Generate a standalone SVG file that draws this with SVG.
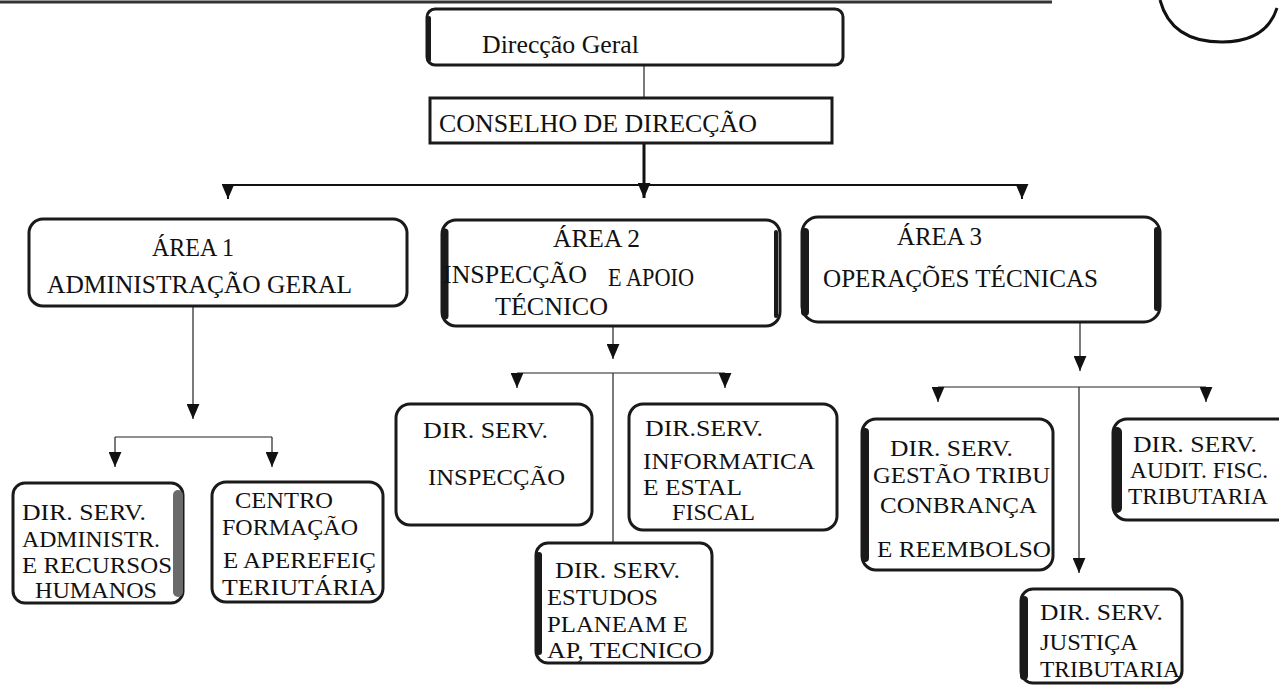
<svg xmlns="http://www.w3.org/2000/svg" width="1279" height="686" viewBox="0 0 1279 686">
<style>
  .bg{fill:#ffffff}
  .box{fill:#ffffff;stroke:#1a1a1a;stroke-width:3}
  .heavy{fill:none;stroke:#1a1a1a;stroke-linecap:round}
  .shade{fill:none;stroke:#6a6a6a;stroke-linecap:round}
  .t{font-family:"Liberation Serif","Times New Roman",serif;fill:#111;font-size:25px}
  .s{font-family:"Liberation Serif","Times New Roman",serif;fill:#111;font-size:24px}
  .thin{fill:none;stroke:#222;stroke-width:1.2}
  .mid{fill:none;stroke:#111;stroke-width:2}
  .thick{fill:none;stroke:#111;stroke-width:3}
</style>
<defs>
  <marker id="ahs" viewBox="0 0 12 14" refX="6" refY="14" markerWidth="13" markerHeight="15" markerUnits="userSpaceOnUse">
    <path d="M0,0 L12,0 L6,14 Z" fill="#111"/>
  </marker>
</defs>
<rect class="bg" x="0" y="0" width="1279" height="686"/>

<g id="header">
  <line x1="0" y1="2" x2="1052" y2="2" stroke="#333" stroke-width="3"/>
  <path d="M1160,0 C1168,30 1190,42 1222,42 C1252,42 1270,30 1277,8" fill="none" stroke="#111" stroke-width="3"/>
</g>

<g id="connectors">
  <line class="thin" x1="644" y1="65" x2="644" y2="98"/>
  <line class="thick" x1="644" y1="143" x2="644" y2="198" marker-end="url(#ahs)"/>
  <line class="mid" x1="228" y1="185" x2="1022" y2="185"/>
  <line class="mid" x1="228" y1="184" x2="228" y2="199" marker-end="url(#ahs)"/>
  <line class="mid" x1="1022" y1="184" x2="1022" y2="199" marker-end="url(#ahs)"/>

  <line class="thin" x1="193" y1="307" x2="193" y2="419" marker-end="url(#ahs)"/>
  <line class="thin" x1="115" y1="437" x2="272" y2="437"/>
  <line class="thin" x1="115" y1="437" x2="115" y2="467" marker-end="url(#ahs)"/>
  <line class="thin" x1="272" y1="437" x2="272" y2="467" marker-end="url(#ahs)"/>

  <line class="thin" x1="613" y1="327" x2="613" y2="359" marker-end="url(#ahs)"/>
  <line class="thin" x1="517" y1="373" x2="725" y2="373"/>
  <line class="thin" x1="517" y1="373" x2="517" y2="388" marker-end="url(#ahs)"/>
  <line class="thin" x1="725" y1="373" x2="725" y2="388" marker-end="url(#ahs)"/>
  <line class="thin" x1="613" y1="373" x2="613" y2="542"/>

  <line class="thin" x1="1080" y1="322" x2="1080" y2="371" marker-end="url(#ahs)"/>
  <line class="thin" x1="938" y1="387" x2="1206" y2="387"/>
  <line class="thin" x1="938" y1="387" x2="938" y2="402" marker-end="url(#ahs)"/>
  <line class="thin" x1="1206" y1="387" x2="1206" y2="402" marker-end="url(#ahs)"/>
  <line class="thin" x1="1079" y1="387" x2="1079" y2="573" marker-end="url(#ahs)"/>
</g>

<g id="direccao-geral">
  <rect class="box" x="427" y="9" width="416" height="56" rx="8"/>
  <path class="heavy" d="M429,18 L429,60" stroke-width="4"/>
  <text class="t" x="482" y="53" font-size="27" textLength="157" lengthAdjust="spacingAndGlyphs">Direcção  Geral</text>
</g>

<g id="conselho">
  <rect class="box" x="430" y="98" width="402" height="45"/>
  <text class="t" x="439" y="132" font-size="27" textLength="318" lengthAdjust="spacingAndGlyphs">CONSELHO DE DIRECÇÃO</text>
</g>

<g id="area1">
  <rect class="box" x="29" y="219" width="378" height="87" rx="14" stroke="#3a3a3a" stroke-width="5"/>
  <text class="t" x="152" y="256" textLength="82" lengthAdjust="spacingAndGlyphs">ÁREA 1</text>
  <text class="t" x="47" y="293" textLength="305" lengthAdjust="spacingAndGlyphs">ADMINISTRAÇÃO GERAL</text>
</g>

<g id="area2">
  <rect class="box" x="442" y="220" width="338" height="106" rx="14" stroke-width="4"/>
  <path class="heavy" d="M445,232 L445,316" stroke-width="7"/>
  <path class="heavy" d="M776,232 L776,316" stroke-width="4"/>
  <text class="t" x="553" y="247" textLength="87" lengthAdjust="spacingAndGlyphs">ÁREA 2</text>
  <text class="t" x="443" y="283" textLength="144" lengthAdjust="spacingAndGlyphs">INSPECÇÃO</text>
  <text class="t" x="608" y="286" textLength="86" lengthAdjust="spacingAndGlyphs">E APOIO</text>
  <text class="t" x="495" y="315" textLength="113" lengthAdjust="spacingAndGlyphs">TÉCNICO</text>
</g>

<g id="area3">
  <rect class="box" x="802" y="217" width="358" height="105" rx="16" stroke-width="3"/>
  <path class="heavy" d="M805,232 L805,312" stroke-width="8"/>
  <path class="heavy" d="M1157,230 L1157,308" stroke-width="6"/>
  <text class="t" x="897" y="245" textLength="85" lengthAdjust="spacingAndGlyphs">ÁREA 3</text>
  <text class="t" x="823" y="287" textLength="275" lengthAdjust="spacingAndGlyphs">OPERAÇÕES TÉCNICAS</text>
</g>

<g id="dir-admin">
  <rect class="box" x="13" y="483" width="170" height="120" rx="12"/>
  <path class="shade" d="M178,495 L178,592" stroke-width="10"/>
  <text class="s" x="22" y="520" textLength="124" lengthAdjust="spacingAndGlyphs">DIR. SERV.</text>
  <text class="s" x="22" y="547" textLength="138" lengthAdjust="spacingAndGlyphs">ADMINISTR.</text>
  <text class="s" x="22" y="573" textLength="150" lengthAdjust="spacingAndGlyphs">E RECURSOS</text>
  <text class="s" x="35" y="598" textLength="122" lengthAdjust="spacingAndGlyphs">HUMANOS</text>
</g>

<g id="centro-formacao">
  <rect class="box" x="212" y="482" width="171" height="120" rx="14" stroke="#2a2a2a" stroke-width="6"/>
  <text class="s" x="235" y="508" textLength="98" lengthAdjust="spacingAndGlyphs">CENTRO</text>
  <text class="s" x="222" y="535" textLength="136" lengthAdjust="spacingAndGlyphs">FORMAÇÃO</text>
  <text class="s" x="223" y="568" textLength="153" lengthAdjust="spacingAndGlyphs">E APEREFEIÇ</text>
  <text class="s" x="222" y="595" textLength="155" lengthAdjust="spacingAndGlyphs">TERIUTÁRIA</text>
</g>

<g id="dir-inspeccao">
  <rect class="box" x="396" y="404" width="196" height="121" rx="14" stroke="#1f1f1f" stroke-width="6"/>
  <text class="s" x="423" y="438" textLength="125" lengthAdjust="spacingAndGlyphs">DIR. SERV.</text>
  <text class="s" x="428" y="485" textLength="137" lengthAdjust="spacingAndGlyphs">INSPECÇÃO</text>
</g>

<g id="dir-informatica">
  <rect class="box" x="629" y="404" width="208" height="126" rx="14" stroke="#1f1f1f" stroke-width="6"/>
  <text class="s" x="645" y="436" textLength="118" lengthAdjust="spacingAndGlyphs">DIR.SERV.</text>
  <text class="s" x="643" y="469" textLength="172" lengthAdjust="spacingAndGlyphs">INFORMATICA</text>
  <text class="s" x="643" y="495" textLength="99" lengthAdjust="spacingAndGlyphs">E ESTAL</text>
  <text class="s" x="672" y="520" textLength="83" lengthAdjust="spacingAndGlyphs">FISCAL</text>
</g>

<g id="dir-estudos">
  <rect class="box" x="536" y="543" width="176" height="120" rx="12" stroke-width="4"/>
  <path class="heavy" d="M539,555 L539,652" stroke-width="6"/>
  <text class="s" x="555" y="578" textLength="125" lengthAdjust="spacingAndGlyphs">DIR. SERV.</text>
  <text class="s" x="547" y="605" textLength="111" lengthAdjust="spacingAndGlyphs">ESTUDOS</text>
  <text class="s" x="547" y="632" textLength="141" lengthAdjust="spacingAndGlyphs">PLANEAM E</text>
  <text class="s" x="547" y="658" textLength="155" lengthAdjust="spacingAndGlyphs">AP, TECNICO</text>
</g>

<g id="dir-gestao">
  <rect class="box" x="862" y="419" width="191" height="151" rx="14" stroke-width="4"/>
  <path class="heavy" d="M865,432 L865,558" stroke-width="8"/>
  <text class="s" x="890" y="456" textLength="123" lengthAdjust="spacingAndGlyphs">DIR. SERV.</text>
  <text class="s" x="873" y="483" textLength="177" lengthAdjust="spacingAndGlyphs">GESTÃO TRIBU</text>
  <text class="s" x="880" y="513" textLength="157" lengthAdjust="spacingAndGlyphs">CONBRANÇA</text>
  <text class="s" x="877" y="557" textLength="174" lengthAdjust="spacingAndGlyphs">E REEMBOLSO</text>
</g>

<g id="dir-audit">
  <rect class="box" x="1113" y="419" width="180" height="101" rx="14" stroke-width="5"/>
  <path class="heavy" d="M1117,432 L1117,508" stroke-width="10"/>
  <text class="s" x="1133" y="452" textLength="124" lengthAdjust="spacingAndGlyphs">DIR. SERV.</text>
  <text class="s" x="1130" y="478" textLength="138" lengthAdjust="spacingAndGlyphs">AUDIT. FISC.</text>
  <text class="s" x="1128" y="504" textLength="140" lengthAdjust="spacingAndGlyphs">TRIBUTARIA</text>
</g>

<g id="dir-justica">
  <rect class="box" x="1021" y="589" width="161" height="94" rx="12" stroke-width="4"/>
  <path class="heavy" d="M1024,600 L1024,676" stroke-width="8"/>
  <text class="s" x="1040" y="620" textLength="123" lengthAdjust="spacingAndGlyphs">DIR. SERV.</text>
  <text class="s" x="1040" y="650" textLength="98" lengthAdjust="spacingAndGlyphs">JUSTIÇA</text>
  <text class="s" x="1040" y="677" textLength="140" lengthAdjust="spacingAndGlyphs">TRIBUTARIA</text>
</g>
</svg>
